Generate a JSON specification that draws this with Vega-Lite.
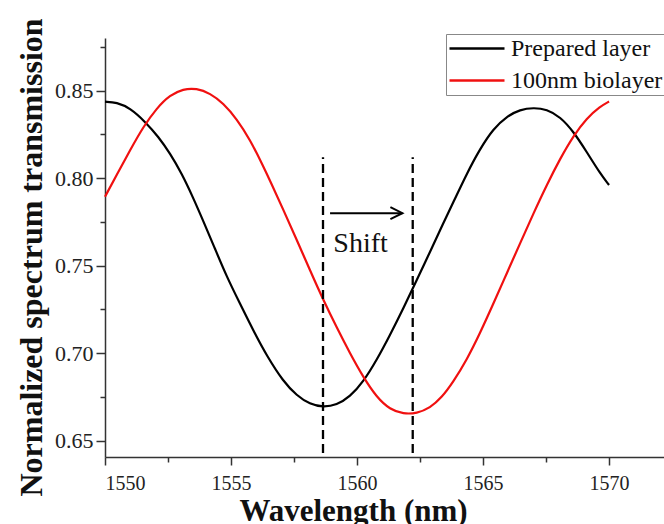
{
  "$schema": "https://vega.github.io/schema/vega-lite/v6.json",
  "width": 559,
  "height": 419,
  "autosize": {"type": "none"},
  "padding": {"left": 105, "top": 38, "right": 0, "bottom": 67},
  "config": {
    "view": {"stroke": null},
    "font": "Liberation Serif",
    "axis": {
      "domainColor": "#333333",
      "tickColor": "#333333",
      "domainWidth": 1.5,
      "tickWidth": 1.5,
      "grid": false,
      "labelFont": "Liberation Serif",
      "labelColor": "#222222",
      "titleFont": "Liberation Serif",
      "titleColor": "#111111"
    }
  },
  "datasets": {
    "curves": [
      {"series": "Prepared layer", "wavelength": 1550.0, "transmission": 0.8437},
      {"series": "Prepared layer", "wavelength": 1550.46, "transmission": 0.8434},
      {"series": "Prepared layer", "wavelength": 1551.0, "transmission": 0.840},
      {"series": "Prepared layer", "wavelength": 1551.59, "transmission": 0.8323},
      {"series": "Prepared layer", "wavelength": 1552.12, "transmission": 0.8237},
      {"series": "Prepared layer", "wavelength": 1552.58, "transmission": 0.8142},
      {"series": "Prepared layer", "wavelength": 1553.04, "transmission": 0.8028},
      {"series": "Prepared layer", "wavelength": 1553.5, "transmission": 0.7888},
      {"series": "Prepared layer", "wavelength": 1553.9, "transmission": 0.7755},
      {"series": "Prepared layer", "wavelength": 1554.37, "transmission": 0.7595},
      {"series": "Prepared layer", "wavelength": 1554.83, "transmission": 0.7437},
      {"series": "Prepared layer", "wavelength": 1555.36, "transmission": 0.7282},
      {"series": "Prepared layer", "wavelength": 1555.89, "transmission": 0.7128},
      {"series": "Prepared layer", "wavelength": 1556.42, "transmission": 0.6985},
      {"series": "Prepared layer", "wavelength": 1557.08, "transmission": 0.6837},
      {"series": "Prepared layer", "wavelength": 1557.61, "transmission": 0.6758},
      {"series": "Prepared layer", "wavelength": 1558.13, "transmission": 0.6708},
      {"series": "Prepared layer", "wavelength": 1558.66, "transmission": 0.6691},
      {"series": "Prepared layer", "wavelength": 1559.19, "transmission": 0.6704},
      {"series": "Prepared layer", "wavelength": 1559.72, "transmission": 0.6751},
      {"series": "Prepared layer", "wavelength": 1560.25, "transmission": 0.6837},
      {"series": "Prepared layer", "wavelength": 1560.78, "transmission": 0.6961},
      {"series": "Prepared layer", "wavelength": 1561.31, "transmission": 0.7104},
      {"series": "Prepared layer", "wavelength": 1561.84, "transmission": 0.7257},
      {"series": "Prepared layer", "wavelength": 1562.37, "transmission": 0.7418},
      {"series": "Prepared layer", "wavelength": 1562.9, "transmission": 0.758},
      {"series": "Prepared layer", "wavelength": 1563.42, "transmission": 0.7742},
      {"series": "Prepared layer", "wavelength": 1563.82, "transmission": 0.7862},
      {"series": "Prepared layer", "wavelength": 1564.35, "transmission": 0.8025},
      {"series": "Prepared layer", "wavelength": 1564.88, "transmission": 0.8168},
      {"series": "Prepared layer", "wavelength": 1565.41, "transmission": 0.8283},
      {"series": "Prepared layer", "wavelength": 1565.94, "transmission": 0.8353},
      {"series": "Prepared layer", "wavelength": 1566.47, "transmission": 0.8392},
      {"series": "Prepared layer", "wavelength": 1567.0, "transmission": 0.8403},
      {"series": "Prepared layer", "wavelength": 1567.53, "transmission": 0.8394},
      {"series": "Prepared layer", "wavelength": 1568.06, "transmission": 0.8351},
      {"series": "Prepared layer", "wavelength": 1568.59, "transmission": 0.8266},
      {"series": "Prepared layer", "wavelength": 1569.11, "transmission": 0.8151},
      {"series": "Prepared layer", "wavelength": 1569.64, "transmission": 0.8028},
      {"series": "Prepared layer", "wavelength": 1570.0, "transmission": 0.7961},
      {"series": "100nm biolayer", "wavelength": 1550.0, "transmission": 0.7894},
      {"series": "100nm biolayer", "wavelength": 1550.46, "transmission": 0.8018},
      {"series": "100nm biolayer", "wavelength": 1551.0, "transmission": 0.8161},
      {"series": "100nm biolayer", "wavelength": 1551.52, "transmission": 0.8294},
      {"series": "100nm biolayer", "wavelength": 1552.05, "transmission": 0.840},
      {"series": "100nm biolayer", "wavelength": 1552.58, "transmission": 0.8475},
      {"series": "100nm biolayer", "wavelength": 1553.1, "transmission": 0.851},
      {"series": "100nm biolayer", "wavelength": 1553.63, "transmission": 0.8514},
      {"series": "100nm biolayer", "wavelength": 1554.17, "transmission": 0.8485},
      {"series": "100nm biolayer", "wavelength": 1554.7, "transmission": 0.8428},
      {"series": "100nm biolayer", "wavelength": 1555.23, "transmission": 0.8338},
      {"series": "100nm biolayer", "wavelength": 1555.75, "transmission": 0.8222},
      {"series": "100nm biolayer", "wavelength": 1556.28, "transmission": 0.8068},
      {"series": "100nm biolayer", "wavelength": 1556.55, "transmission": 0.7985},
      {"series": "100nm biolayer", "wavelength": 1557.08, "transmission": 0.7818},
      {"series": "100nm biolayer", "wavelength": 1557.61, "transmission": 0.7647},
      {"series": "100nm biolayer", "wavelength": 1558.13, "transmission": 0.7475},
      {"series": "100nm biolayer", "wavelength": 1558.66, "transmission": 0.7304},
      {"series": "100nm biolayer", "wavelength": 1559.19, "transmission": 0.7148},
      {"series": "100nm biolayer", "wavelength": 1559.72, "transmission": 0.6999},
      {"series": "100nm biolayer", "wavelength": 1560.25, "transmission": 0.6862},
      {"series": "100nm biolayer", "wavelength": 1560.78, "transmission": 0.6748},
      {"series": "100nm biolayer", "wavelength": 1561.31, "transmission": 0.6678},
      {"series": "100nm biolayer", "wavelength": 1561.84, "transmission": 0.6653},
      {"series": "100nm biolayer", "wavelength": 1562.37, "transmission": 0.6656},
      {"series": "100nm biolayer", "wavelength": 1562.9, "transmission": 0.6688},
      {"series": "100nm biolayer", "wavelength": 1563.35, "transmission": 0.6745},
      {"series": "100nm biolayer", "wavelength": 1563.82, "transmission": 0.6837},
      {"series": "100nm biolayer", "wavelength": 1564.35, "transmission": 0.6961},
      {"series": "100nm biolayer", "wavelength": 1564.88, "transmission": 0.7114},
      {"series": "100nm biolayer", "wavelength": 1565.41, "transmission": 0.7283},
      {"series": "100nm biolayer", "wavelength": 1565.94, "transmission": 0.7456},
      {"series": "100nm biolayer", "wavelength": 1566.47, "transmission": 0.7628},
      {"series": "100nm biolayer", "wavelength": 1567.0, "transmission": 0.7799},
      {"series": "100nm biolayer", "wavelength": 1567.53, "transmission": 0.7962},
      {"series": "100nm biolayer", "wavelength": 1568.06, "transmission": 0.8112},
      {"series": "100nm biolayer", "wavelength": 1568.59, "transmission": 0.8243},
      {"series": "100nm biolayer", "wavelength": 1569.11, "transmission": 0.8342},
      {"series": "100nm biolayer", "wavelength": 1569.64, "transmission": 0.8409},
      {"series": "100nm biolayer", "wavelength": 1570.0, "transmission": 0.8438}
    ],
    "markers": [
      {"wavelength": 1558.65, "low": 0.643, "high": 0.812},
      {"wavelength": 1562.21, "low": 0.643, "high": 0.812}
    ],
    "arrow": [
      {"start": 1558.93, "end": 1561.8, "level": 0.78}
    ],
    "label": [
      {"wavelength": 1559.06, "level": 0.758, "text": "Shift"}
    ]
  },
  "layer": [
    {
      "data": {"name": "curves"},
      "mark": {"type": "line", "strokeWidth": 2.2, "interpolate": "basis"},
      "encoding": {
        "x": {
          "field": "wavelength", "type": "quantitative",
          "scale": {"domain": [1550, 1572.18], "nice": false, "zero": false},
          "axis": {
            "orient": "bottom",
            "values": [1550, 1555, 1560, 1565, 1570],
            "format": "d",
            "tickSize": 8,
            "labelPadding": 8,
            "labelFontSize": 20,
            "title": "Wavelength (nm)",
            "titleFontSize": 31,
            "titleFontWeight": "bold",
            "titlePadding": 3,
            "titleX": 248
          }
        },
        "y": {
          "field": "transmission", "type": "quantitative",
          "scale": {"domain": [0.6407, 0.8801], "nice": false, "zero": false},
          "axis": {
            "orient": "left",
            "values": [0.65, 0.70, 0.75, 0.80, 0.85],
            "format": ".2f",
            "tickSize": 9,
            "labelPadding": 3,
            "labelFontSize": 22,
            "title": "Normalized spectrum transmission",
            "titleFontSize": 32,
            "titleFontWeight": "bold",
            "titlePadding": 6,
            "titleY": 219
          }
        },
        "color": {
          "field": "series", "type": "nominal",
          "scale": {"domain": ["Prepared layer", "100nm biolayer"], "range": ["#000000", "#f01010"]},
          "legend": {
            "title": null,
            "orient": "none",
            "legendX": 341,
            "legendY": -4,
            "symbolType": "M-1,0H4",
            "symbolSize": 484,
            "symbolStrokeWidth": 2.5,
            "labelFont": "Liberation Serif",
            "labelFontSize": 24,
            "labelColor": "#111111",
            "labelOffset": 38,
            "labelLimit": 400,
            "rowPadding": 7,
            "padding": 2,
            "strokeColor": "#888888",
            "fillColor": "#ffffff"
          }
        }
      }
    },
    {
      "data": {"name": "markers"},
      "mark": {"type": "rule", "color": "#000000", "strokeWidth": 2.3, "strokeDash": [9, 5]},
      "encoding": {
        "x": {
          "field": "wavelength", "type": "quantitative",
          "scale": {"domain": [1550, 1572.18], "nice": false, "zero": false},
          "axis": {"orient": "bottom", "values": [1552.5, 1557.5, 1562.5, 1567.5], "labels": false, "domain": false, "tickSize": 5, "title": null}
        },
        "y": {
          "field": "low", "type": "quantitative",
          "scale": {"domain": [0.6407, 0.8801], "nice": false, "zero": false},
          "axis": {"orient": "left", "values": [0.675, 0.725, 0.775, 0.825, 0.875], "labels": false, "domain": false, "tickSize": 5, "title": null}
        },
        "y2": {"field": "high"}
      }
    },
    {
      "data": {"name": "arrow"},
      "mark": {"type": "rule", "color": "#000000", "strokeWidth": 2},
      "encoding": {
        "x": {"field": "start", "type": "quantitative", "scale": {"domain": [1550, 1572.18], "nice": false, "zero": false}, "axis": null},
        "x2": {"field": "end"},
        "y": {"field": "level", "type": "quantitative", "scale": {"domain": [0.6407, 0.8801], "nice": false, "zero": false}, "axis": null}
      }
    },
    {
      "data": {"name": "arrow"},
      "mark": {"type": "point", "shape": "M-1,-0.5L0,0L-1,0.5", "size": 576, "filled": false, "color": "#000000", "strokeWidth": 2, "opacity": 1},
      "encoding": {
        "x": {"field": "end", "type": "quantitative", "scale": {"domain": [1550, 1572.18], "nice": false, "zero": false}, "axis": null},
        "y": {"field": "level", "type": "quantitative", "scale": {"domain": [0.6407, 0.8801], "nice": false, "zero": false}, "axis": null}
      }
    },
    {
      "data": {"name": "label"},
      "mark": {"type": "text", "align": "left", "baseline": "alphabetic", "font": "Liberation Serif", "fontSize": 28, "color": "#111111"},
      "encoding": {
        "x": {"field": "wavelength", "type": "quantitative", "scale": {"domain": [1550, 1572.18], "nice": false, "zero": false}, "axis": null},
        "y": {"field": "level", "type": "quantitative", "scale": {"domain": [0.6407, 0.8801], "nice": false, "zero": false}, "axis": null},
        "text": {"field": "text"}
      }
    }
  ],
  "resolve": {"axis": {"x": "independent", "y": "independent"}}
}
